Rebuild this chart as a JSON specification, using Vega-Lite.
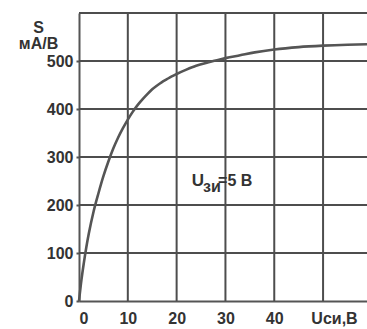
{
  "$schema": "https://vega.github.io/schema/vega-lite/v6.json",
  "width": 288,
  "height": 288,
  "autosize": {"type": "none"},
  "padding": {"left": 79, "top": 13, "right": 0, "bottom": 28},
  "background": "white",
  "config": {
    "view": {"stroke": null},
    "font": "Liberation Sans",
    "axis": {
      "labelFont": "Liberation Sans",
      "labelFontWeight": "bold",
      "labelFontSize": 16,
      "labelColor": "#333333",
      "titleFont": "Liberation Sans",
      "titleFontWeight": "bold",
      "titleFontSize": 16,
      "titleColor": "#333333",
      "domainColor": "#555555",
      "domainWidth": 2,
      "tickColor": "#555555",
      "tickWidth": 2,
      "grid": false
    }
  },
  "datasets": {
    "curve": [
      {"u": 0, "s": 0}, {"u": 0.5, "s": 44}, {"u": 1, "s": 80}, {"u": 1.5, "s": 112},
      {"u": 2, "s": 140}, {"u": 3, "s": 187}, {"u": 4, "s": 225}, {"u": 5, "s": 260},
      {"u": 6, "s": 290}, {"u": 7, "s": 317}, {"u": 8, "s": 340}, {"u": 9, "s": 360},
      {"u": 10, "s": 378}, {"u": 11, "s": 394}, {"u": 12, "s": 408}, {"u": 13, "s": 420},
      {"u": 14, "s": 431}, {"u": 15, "s": 441}, {"u": 16, "s": 449}, {"u": 17, "s": 456},
      {"u": 18, "s": 462}, {"u": 19, "s": 468}, {"u": 20, "s": 473}, {"u": 22, "s": 482},
      {"u": 24, "s": 490}, {"u": 26, "s": 496}, {"u": 28, "s": 501}, {"u": 30, "s": 506},
      {"u": 33, "s": 512}, {"u": 36, "s": 518}, {"u": 40, "s": 524}, {"u": 45, "s": 529},
      {"u": 50, "s": 532}, {"u": 55, "s": 534}, {"u": 59, "s": 535}
    ],
    "xgrid": [{"u": 10}, {"u": 20}, {"u": 30}, {"u": 40}, {"u": 50}],
    "ygrid": [{"s": 100}, {"s": 200}, {"s": 300}, {"s": 400}, {"s": 500}, {"s": 600}]
  },
  "layer": [
    {
      "data": {"name": "xgrid"},
      "mark": {"type": "rule", "color": "#4d4d4d", "strokeWidth": 2, "opacity": 1},
      "encoding": {
        "x": {
          "field": "u", "type": "quantitative",
          "scale": {"domain": [0, 59], "nice": false, "zero": false},
          "axis": {
            "values": [0, 10, 20, 30, 40, 50],
            "labelExpr": "datum.value == 50 ? '' : datum.label",
            "tickSize": 0,
            "labelPadding": 9,
            "labelBaseline": "top",
            "title": "Uси,В",
            "titleX": 255,
            "titleY": 17,
            "titleBaseline": "middle",
            "titleAlign": "center"
          }
        }
      }
    },
    {
      "data": {"name": "ygrid"},
      "mark": {"type": "rule", "color": "#4d4d4d", "strokeWidth": 2, "opacity": 1},
      "encoding": {
        "y": {
          "field": "s", "type": "quantitative",
          "scale": {"domain": [0, 600], "nice": false},
          "axis": {
            "values": [0, 100, 200, 300, 400, 500],
            "tickSize": 3,
            "labelPadding": 3,
            "title": ["S", "мА/В"],
            "titleAngle": 0,
            "titleAlign": "center",
            "titleBaseline": "bottom",
            "titleLineHeight": 16,
            "titleX": -41,
            "titleY": 22
          }
        }
      }
    },
    {
      "data": {"name": "curve"},
      "mark": {"type": "line", "color": "#555555", "strokeWidth": 2.6, "interpolate": "monotone"},
      "encoding": {
        "x": {"field": "u", "type": "quantitative"},
        "y": {"field": "s", "type": "quantitative"}
      }
    },
    {
      "data": {"values": [{"u": 23.1, "s": 239.6, "t": "U"}]},
      "mark": {"type": "text", "align": "left", "baseline": "alphabetic", "font": "Liberation Sans", "fontWeight": "bold", "fontSize": 17, "color": "#333333"},
      "encoding": {"x": {"field": "u", "type": "quantitative"}, "y": {"field": "s", "type": "quantitative"}, "text": {"field": "t"}}
    },
    {
      "data": {"values": [{"u": 25.4, "s": 227, "t": "зи"}]},
      "mark": {"type": "text", "align": "left", "baseline": "alphabetic", "font": "Liberation Sans", "fontWeight": "bold", "fontSize": 16, "color": "#333333"},
      "encoding": {"x": {"field": "u", "type": "quantitative"}, "y": {"field": "s", "type": "quantitative"}, "text": {"field": "t"}}
    },
    {
      "data": {"values": [{"u": 28.5, "s": 239.6, "t": "=5 В"}]},
      "mark": {"type": "text", "align": "left", "baseline": "alphabetic", "font": "Liberation Sans", "fontWeight": "bold", "fontSize": 16, "color": "#333333"},
      "encoding": {"x": {"field": "u", "type": "quantitative"}, "y": {"field": "s", "type": "quantitative"}, "text": {"field": "t"}}
    }
  ]
}
